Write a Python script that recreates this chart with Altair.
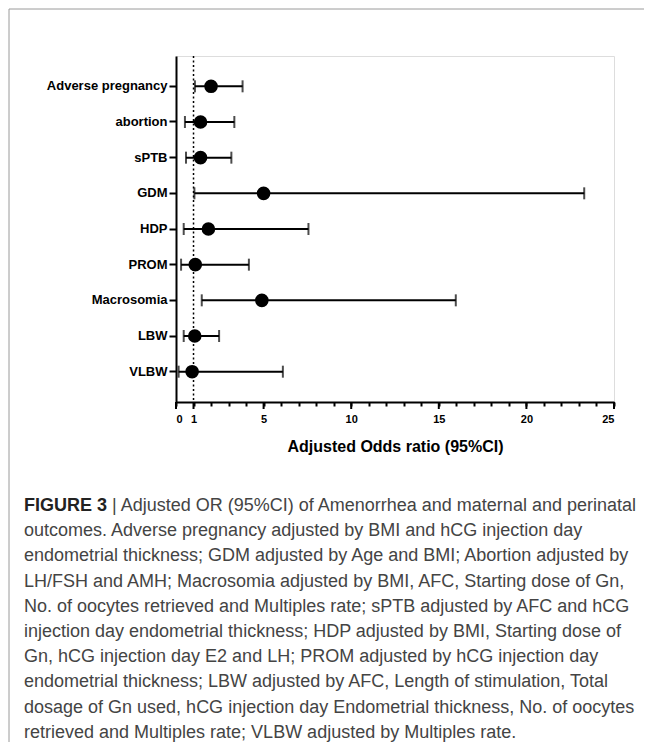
import altair as alt
import pandas as pd

# ---- data ----
outcomes = ["Adverse pregnancy", "abortion", "sPTB", "GDM", "HDP",
            "PROM", "Macrosomia", "LBW", "VLBW"]
odds_ratio = [2.0, 1.4, 1.4, 5.0, 1.85, 1.1, 4.9, 1.07, 0.92]
ci_low = [1.08, 0.51, 0.57, 1.05, 0.44, 0.29, 1.47, 0.44, 0.15]
ci_high = [3.8, 3.33, 3.16, 23.3, 7.56, 4.16, 15.97, 2.46, 6.1]
ref_value = [1]
tick_values = [0, 1, 2, 3, 4, 5, 6, 7, 8, 9, 10, 11, 12, 13, 14, 15,
               16, 17, 18, 19, 20, 21, 22, 23, 24, 25]
label_values = [0, 1, 5, 10, 15, 20, 25]
x_title = "Adjusted Odds ratio (95%CI)"

caption_bold = "FIGURE 3"
caption_lines = [
    "| Adjusted OR (95%CI) of Amenorrhea and maternal and perinatal",
    "outcomes. Adverse pregnancy adjusted by BMI and hCG injection day",
    "endometrial thickness; GDM adjusted by Age and BMI; Abortion adjusted by",
    "LH/FSH and AMH; Macrosomia adjusted by BMI, AFC, Starting dose of Gn,",
    "No. of oocytes retrieved and Multiples rate; sPTB adjusted by AFC and hCG",
    "injection day endometrial thickness; HDP adjusted by BMI, Starting dose of",
    "Gn, hCG injection day E2 and LH; PROM adjusted by hCG injection day",
    "endometrial thickness; LBW adjusted by AFC, Length of stimulation, Total",
    "dosage of Gn used, hCG injection day Endometrial thickness, No. of oocytes",
    "retrieved and Multiples rate; VLBW adjusted by Multiples rate.",
]

# ---- layout ----
W, H = 438, 346
PAD_L, PAD_T = 168, 48
TOTAL_W, TOTAL_H = 636, 734
FONT = "Liberation Sans"
CAP_X = 24
CAP_Y = 511
CAP_LH = 25.2
CAP_FS = 18

df = pd.DataFrame({"outcome": outcomes, "or": odds_ratio,
                   "lo": ci_low, "hi": ci_high})

xscale = alt.Scale(domain=[0, 25], nice=False, zero=True)
xaxis = alt.Axis(values=tick_values, labelExpr="indexof([0,1,5,10,15,20,25], datum.value) >= 0 ? datum.label : ''",
                 tickSize=4, tickWidth=2, tickColor="black", domainWidth=2,
                 domainColor="black", labelFont=FONT, labelFontWeight="bold",
                 labelFontSize=11, labelColor="black", labelPadding=7,
                 grid=False, title=x_title, titleFont=FONT, titleFontSize=16,
                 titleFontWeight="bold", titleColor="black", titlePadding=14,
                 labelOverlap=False)
yscale = alt.Scale(domain=outcomes, padding=0.7)
yaxis = alt.Axis(title=None, labelFont=FONT, labelFontWeight="bold",
                 labelFontSize=13, labelColor="black", tickSize=7,
                 tickWidth=2, tickColor="black", domainWidth=2,
                 domainColor="black", labelPadding=2, grid=False)

X = lambda f: alt.X(f, scale=xscale, axis=xaxis)
Y = alt.Y("outcome:N", sort=outcomes, scale=yscale, axis=yaxis)

base = alt.Chart(df)
bars = base.mark_rule(color="black", strokeWidth=2).encode(
    x=X("lo:Q"), x2="hi:Q", y=Y)
cap_lo = base.mark_tick(color="black", thickness=2, size=12).encode(x=X("lo:Q"), y=Y)
cap_hi = base.mark_tick(color="black", thickness=2, size=12).encode(x=X("hi:Q"), y=Y)
dots = base.mark_circle(color="black", opacity=1, size=185).encode(x=X("or:Q"), y=Y)

ref = alt.Chart(pd.DataFrame({"ref": ref_value})).mark_rule(
    color="black", strokeWidth=1.5, strokeDash=[2, 2.5]).encode(x=X("ref:Q"))

major = alt.Chart(pd.DataFrame({"v": label_values})).mark_rule(
    color="black", strokeWidth=2).encode(x=X("v:Q"), y=alt.value(H), y2=alt.value(H + 7))

# caption
cap_b = alt.Chart(pd.DataFrame({"t": [caption_bold]})).mark_text(
    align="left", baseline="alphabetic", font=FONT, fontWeight="bold",
    fontSize=CAP_FS, color="#222").encode(
    text="t:N", x=alt.value(CAP_X - PAD_L - 8), y=alt.value(CAP_Y - PAD_T - 8))
cap_first = alt.Chart(pd.DataFrame({"t": [caption_lines[0]]})).mark_text(
    align="left", baseline="alphabetic", font=FONT, fontSize=CAP_FS,
    color="#444").encode(
    text="t:N", x=alt.value(CAP_X + 88 - PAD_L - 8), y=alt.value(CAP_Y - PAD_T - 8))
cap_rest = alt.Chart(pd.DataFrame({"t": ["\n".join(caption_lines[1:])]})).mark_text(
    align="left", baseline="alphabetic", font=FONT, fontSize=CAP_FS,
    color="#444", lineBreak="\n", lineHeight=CAP_LH).encode(
    text="t:N", x=alt.value(CAP_X - PAD_L - 8), y=alt.value(CAP_Y + CAP_LH - PAD_T - 8))

# figure frame (top and left edges)
frame_top = alt.Chart(pd.DataFrame({"a": [0]})).mark_rule(
    color="#9a9a9a", strokeWidth=1).encode(
    x=alt.value(9 - PAD_L - 8), x2=alt.value(TOTAL_W - PAD_L), y=alt.value(9 - PAD_T - 8))
frame_left = alt.Chart(pd.DataFrame({"a": [0]})).mark_rule(
    color="#9a9a9a", strokeWidth=1).encode(
    x=alt.value(9 - PAD_L - 8), y=alt.value(9 - PAD_T - 8), y2=alt.value(TOTAL_H - PAD_T))

chart = alt.layer(ref, bars, cap_lo, cap_hi, dots, major,
                  cap_b, cap_first, cap_rest, frame_top, frame_left).properties(
    width=W, height=H,
    autosize=alt.AutoSizeParams(type="none"),
    padding={"left": PAD_L, "top": PAD_T,
             "right": TOTAL_W - PAD_L - W, "bottom": TOTAL_H - PAD_T - H},
).configure_view(stroke=None).configure(background="white")

chart.save("out.html", embed_options={"renderer": "svg", "actions": False})
